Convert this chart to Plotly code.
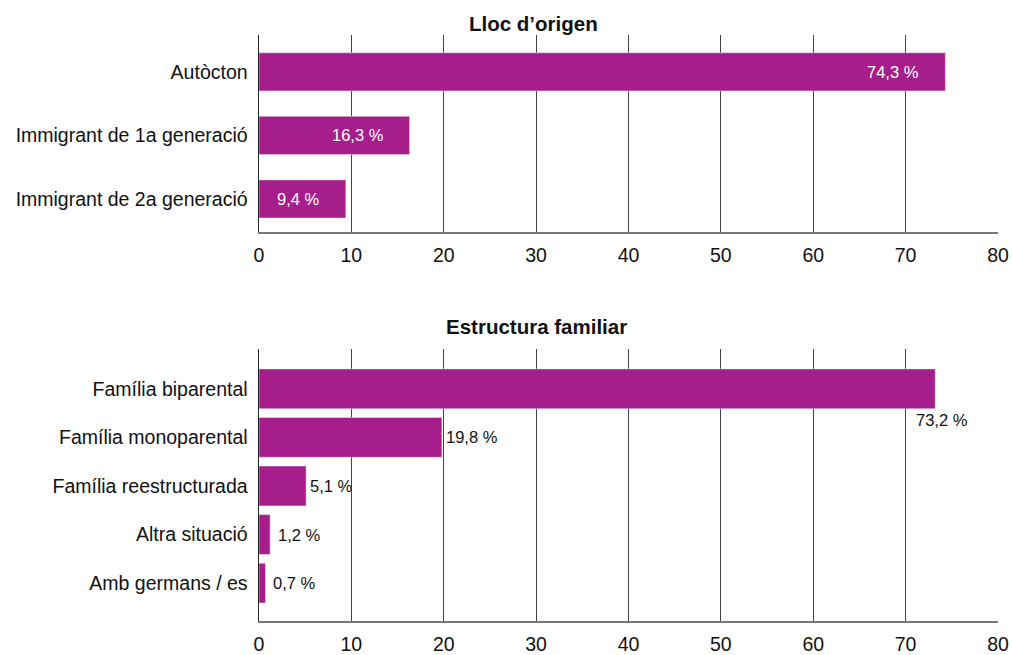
import plotly.graph_objects as go

W, H = 1012, 655
BAR = "#A61E8B"
FONT = "Liberation Sans, Arial, sans-serif"

origin_cats = ["Autòcton", "Immigrant de 1a generació", "Immigrant de 2a generació"]
origin_vals = [74.3, 16.3, 9.4]
origin_labels = ["74,3 %", "16,3 %", "9,4 %"]

family_cats = ["Família biparental", "Família monoparental", "Família reestructurada",
               "Altra situació", "Amb germans / es"]
family_vals = [73.2, 19.8, 5.1, 1.2, 0.7]
family_labels = ["73,2 %", "19,8 %", "5,1 %", "1,2 %", "0,7 %"]

tick_vals = [0, 10, 20, 30, 40, 50, 60, 70, 80]


def px(p):
    return p / W


def py(p):
    return 1 - p / H


fig = go.Figure()
fig.add_trace(go.Bar(y=origin_cats, x=origin_vals, orientation="h", marker_color=BAR,
                     width=0.6, xaxis="x", yaxis="y", hoverinfo="skip"))
fig.add_trace(go.Bar(y=family_cats, x=family_vals, orientation="h", marker_color=BAR,
                     width=0.82, xaxis="x2", yaxis="y2", hoverinfo="skip"))

annotations = []
for c, v, t in zip(origin_cats, origin_vals, origin_labels):
    annotations.append(dict(x=v, y=c, xref="x", yref="y", text=t, showarrow=False,
                            xanchor="right", xshift=-24, font=dict(color="white", size=16.5, family=FONT)))
for i, (c, v, t) in enumerate(zip(family_cats, family_vals, family_labels)):
    if i == 0:
        annotations.append(dict(x=v, y=c, xref="x2", yref="y2", text=t, showarrow=False,
                                xanchor="center", xshift=7, yshift=-31,
                                font=dict(color="#111", size=16.5, family=FONT)))
    else:
        annotations.append(dict(x=v, y=c, xref="x2", yref="y2", text=t, showarrow=False,
                                xanchor="left", xshift=2 if v > 3 else 6,
                                font=dict(color="#111", size=16.5, family=FONT)))
annotations.append(dict(x=px(533), y=py(24), xref="paper", yref="paper", text="<b>Lloc d’origen</b>",
                        xanchor="center", yanchor="middle",
                        showarrow=False, font=dict(size=20.5, color="#111", family=FONT)))
annotations.append(dict(x=px(536), y=py(326), xref="paper", yref="paper", text="<b>Estructura familiar</b>",
                        xanchor="center", yanchor="middle",
                        showarrow=False, font=dict(size=20.5, color="#111", family=FONT)))

xcommon = dict(range=[0, 80], tickvals=tick_vals, showgrid=True, gridcolor="#444", gridwidth=1.2,
               zeroline=False, showline=True, linecolor="#777", linewidth=2, ticks="",
               tickfont=dict(size=19.5, color="#111", family=FONT), ticklabelstandoff=5,
               domain=[px(259), px(998)], fixedrange=True, mirror=False, automargin=False)
ycommon = dict(showgrid=False, showline=True, linecolor="#222", linewidth=1.5, ticks="", zeroline=False,
               tickfont=dict(size=19.5, color="#111", family=FONT), ticklabelstandoff=6,
               type="category", fixedrange=True, automargin=False)

fig.update_layout(
    width=W, height=H, margin=dict(l=0, r=0, t=0, b=0, autoexpand=False),
    paper_bgcolor="white", plot_bgcolor="white", showlegend=False, bargap=0.4,
    font=dict(family=FONT, color="#111"),
    xaxis=dict(**xcommon, anchor="y"),
    yaxis=dict(**ycommon, domain=[py(232), py(35)], range=[2.52, -0.58], anchor="x"),
    xaxis2=dict(**xcommon, anchor="y2"),
    yaxis2=dict(**ycommon, domain=[py(621), py(349)], range=[4.78, -0.82], anchor="x2"),
    annotations=annotations,
)

fig.write_html("out.html", config={"displayModeBar": False, "staticPlot": True},
               post_script="document.body.style.margin='0';document.body.style.overflow='hidden';")
